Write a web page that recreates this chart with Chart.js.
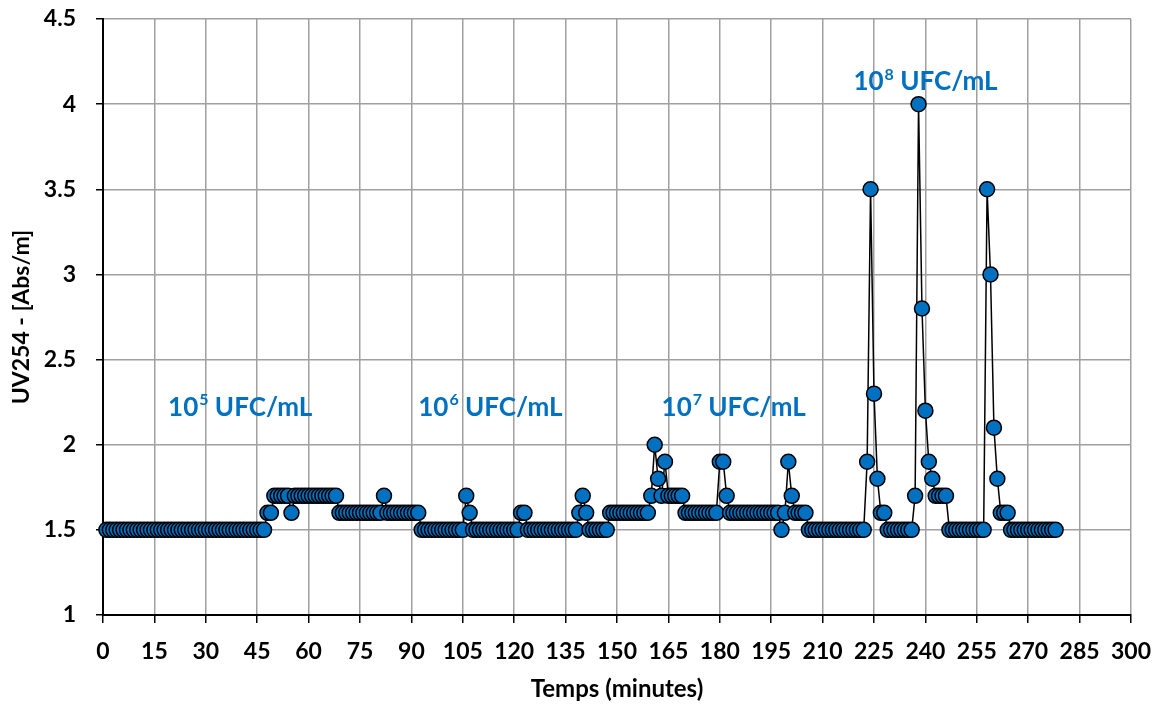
<!DOCTYPE html>
<html>
<head>
<meta charset="utf-8">
<script src="https://cdn.jsdelivr.net/npm/chart.js@4.4.1/dist/chart.umd.min.js"></script>
<style>
  html, body { margin: 0; padding: 0; background: #fff; }
  #wrap { width: 1162px; height: 706px; }
</style>
</head>
<body>
<div id="wrap"><canvas id="uvChart" width="1162" height="706"></canvas></div>
<script>
// temps de mesure (minutes)
const minutes = [
  1, 2, 3, 4, 5, 6, 7, 8, 9, 10,
  11, 12, 13, 14, 15, 16, 17, 18, 19, 20,
  21, 22, 23, 24, 25, 26, 27, 28, 29, 30,
  31, 32, 33, 34, 35, 36, 37, 38, 39, 40,
  41, 42, 43, 44, 45, 46, 47, 48, 49, 50,
  51, 52, 53, 54, 55, 56, 57, 58, 59, 60,
  61, 62, 63, 64, 65, 66, 67, 68, 69, 70,
  71, 72, 73, 74, 75, 76, 77, 78, 79, 80,
  81, 82, 83, 84, 85, 86, 87, 88, 89, 90,
  91, 92, 93, 94, 95, 96, 97, 98, 99, 100,
  101, 102, 103, 104, 105, 106, 107, 108, 109, 110,
  111, 112, 113, 114, 115, 116, 117, 118, 119, 120,
  121, 122, 123, 124, 125, 126, 127, 128, 129, 130,
  131, 132, 133, 134, 135, 136, 137, 138, 139, 140,
  141, 142, 143, 144, 145, 146, 147, 148, 149, 150,
  151, 152, 153, 154, 155, 156, 157, 158, 159, 160,
  161, 162, 163, 164, 165, 166, 167, 168, 169, 170,
  171, 172, 173, 174, 175, 176, 177, 178, 179, 180,
  181, 182, 183, 184, 185, 186, 187, 188, 189, 190,
  191, 192, 193, 194, 195, 196, 197, 198, 199, 200,
  201, 202, 203, 204, 205, 206, 207, 208, 209, 210,
  211, 212, 213, 214, 215, 216, 217, 218, 219, 220,
  221, 222, 223, 224, 225, 226, 227, 228, 229, 230,
  231, 232, 233, 234, 235, 236, 237, 238, 239, 240,
  241, 242, 243, 244, 245, 246, 247, 248, 249, 250,
  251, 252, 253, 254, 255, 256, 257, 258, 259, 260,
  261, 262, 263, 264, 265, 266, 267, 268, 269, 270,
  271, 272, 273, 274, 275, 276, 277, 278
];

// absorbance UV254 (Abs/m), une valeur par minute
const uv254 = [
  1.5, 1.5, 1.5, 1.5, 1.5, 1.5, 1.5, 1.5, 1.5, 1.5,
  1.5, 1.5, 1.5, 1.5, 1.5, 1.5, 1.5, 1.5, 1.5, 1.5,
  1.5, 1.5, 1.5, 1.5, 1.5, 1.5, 1.5, 1.5, 1.5, 1.5,
  1.5, 1.5, 1.5, 1.5, 1.5, 1.5, 1.5, 1.5, 1.5, 1.5,
  1.5, 1.5, 1.5, 1.5, 1.5, 1.5, 1.5, 1.6, 1.6, 1.7,
  1.7, 1.7, 1.7, 1.7, 1.6, 1.7, 1.7, 1.7, 1.7, 1.7,
  1.7, 1.7, 1.7, 1.7, 1.7, 1.7, 1.7, 1.7, 1.6, 1.6,
  1.6, 1.6, 1.6, 1.6, 1.6, 1.6, 1.6, 1.6, 1.6, 1.6,
  1.6, 1.7, 1.6, 1.6, 1.6, 1.6, 1.6, 1.6, 1.6, 1.6,
  1.6, 1.6, 1.5, 1.5, 1.5, 1.5, 1.5, 1.5, 1.5, 1.5,
  1.5, 1.5, 1.5, 1.5, 1.5, 1.7, 1.6, 1.5, 1.5, 1.5,
  1.5, 1.5, 1.5, 1.5, 1.5, 1.5, 1.5, 1.5, 1.5, 1.5,
  1.5, 1.6, 1.6, 1.5, 1.5, 1.5, 1.5, 1.5, 1.5, 1.5,
  1.5, 1.5, 1.5, 1.5, 1.5, 1.5, 1.5, 1.5, 1.6, 1.7,
  1.6, 1.5, 1.5, 1.5, 1.5, 1.5, 1.5, 1.6, 1.6, 1.6,
  1.6, 1.6, 1.6, 1.6, 1.6, 1.6, 1.6, 1.6, 1.6, 1.7,
  2.0, 1.8, 1.7, 1.9, 1.7, 1.7, 1.7, 1.7, 1.7, 1.6,
  1.6, 1.6, 1.6, 1.6, 1.6, 1.6, 1.6, 1.6, 1.6, 1.9,
  1.9, 1.7, 1.6, 1.6, 1.6, 1.6, 1.6, 1.6, 1.6, 1.6,
  1.6, 1.6, 1.6, 1.6, 1.6, 1.6, 1.6, 1.5, 1.6, 1.9,
  1.7, 1.6, 1.6, 1.6, 1.6, 1.5, 1.5, 1.5, 1.5, 1.5,
  1.5, 1.5, 1.5, 1.5, 1.5, 1.5, 1.5, 1.5, 1.5, 1.5,
  1.5, 1.5, 1.9, 3.5, 2.3, 1.8, 1.6, 1.6, 1.5, 1.5,
  1.5, 1.5, 1.5, 1.5, 1.5, 1.5, 1.7, 4.0, 2.8, 2.2,
  1.9, 1.8, 1.7, 1.7, 1.7, 1.7, 1.5, 1.5, 1.5, 1.5,
  1.5, 1.5, 1.5, 1.5, 1.5, 1.5, 1.5, 3.5, 3.0, 2.1,
  1.8, 1.6, 1.6, 1.6, 1.5, 1.5, 1.5, 1.5, 1.5, 1.5,
  1.5, 1.5, 1.5, 1.5, 1.5, 1.5, 1.5, 1.5
];

// concentrations injectées (puissance de 10, UFC/mL)
const concExponents = ['5', '6', '7', '8'];

const FONT = 'Lato, "Noto Sans", sans-serif';
const BLUE = '#0070C0';

// étiquettes de concentration : position en unités des axes
const concLabelPos = [
  { x: 19, y: 2.22 },
  { x: 92, y: 2.22 },
  { x: 163, y: 2.22 },
  { x: 219, y: 4.13 }
];

const concLabels = {
  id: 'concLabels',
  afterDatasetsDraw(chart) {
    const { ctx, scales } = chart;
    ctx.save();
    ctx.fillStyle = BLUE;
    ctx.textBaseline = 'middle';
    ctx.textAlign = 'left';
    concExponents.forEach((exp, i) => {
      let px = scales.x.getPixelForValue(concLabelPos[i].x);
      const py = scales.y.getPixelForValue(concLabelPos[i].y);
      ctx.font = 'bold 26px ' + FONT;
      ctx.fillText('10', px, py);
      px += ctx.measureText('10').width + 1;
      ctx.font = 'bold 16px ' + FONT;
      ctx.fillText(exp, px, py - 7);
      px += ctx.measureText(exp).width;
      ctx.font = 'bold 26px ' + FONT;
      ctx.fillText(' UFC/mL', px, py);
    });
    ctx.restore();
  }
};

const points = minutes.map((m, i) => ({ x: m, y: uv254[i] }));

new Chart(document.getElementById('uvChart').getContext('2d'), {
  type: 'line',
  data: {
    datasets: [{
      label: 'UV254',
      data: points,
      borderColor: '#000',
      borderWidth: 1.5,
      pointRadius: 7.5,
      pointHoverRadius: 7.5,
      pointBackgroundColor: BLUE,
      pointBorderColor: '#000',
      pointBorderWidth: 1.5,
      tension: 0,
      clip: false
    }]
  },
  options: {
    responsive: false,
    animation: false,
    events: [],
    layout: { padding: { top: 19, right: 31, left: 0, bottom: 0 } },
    plugins: {
      legend: { display: false },
      tooltip: { enabled: false }
    },
    scales: {
      x: {
        type: 'linear',
        min: 0,
        max: 300,
        afterFit(scale) {
          scale.height = 91;
          scale.paddingLeft = 0;
          scale.paddingRight = 0;
        },
        ticks: {
          stepSize: 15,
          padding: 15,
          color: '#000',
          font: { family: FONT, size: 23, weight: 'bold' }
        },
        grid: {
          color: '#a0a0a0',
          lineWidth: 1.5,
          tickColor: '#000',
          tickLength: 8
        },
        border: { color: '#000', width: 2 },
        title: {
          display: true,
          text: 'Temps (minutes)',
          color: '#000',
          font: { family: FONT, size: 24, weight: 'bold' },
          padding: { top: 0, bottom: 2 }
        }
      },
      y: {
        min: 1,
        max: 4.5,
        afterFit(scale) {
          scale.width = 103;
          scale.paddingTop = 0;
          scale.paddingBottom = 0;
        },
        ticks: {
          stepSize: 0.5,
          padding: 20,
          color: '#000',
          font: { family: FONT, size: 23, weight: 'bold' },
          callback: (v) => String(+v.toFixed(1))
        },
        grid: {
          color: '#a0a0a0',
          lineWidth: 1.5,
          tickColor: '#000',
          tickLength: 7
        },
        border: { color: '#000', width: 2 },
        title: {
          display: true,
          text: 'UV254 - [Abs/m]',
          color: '#000',
          font: { family: FONT, size: 23, weight: 'bold' },
          padding: { top: 8, bottom: 0 }
        }
      }
    }
  },
  plugins: [concLabels]
});
</script>
</body>
</html>
